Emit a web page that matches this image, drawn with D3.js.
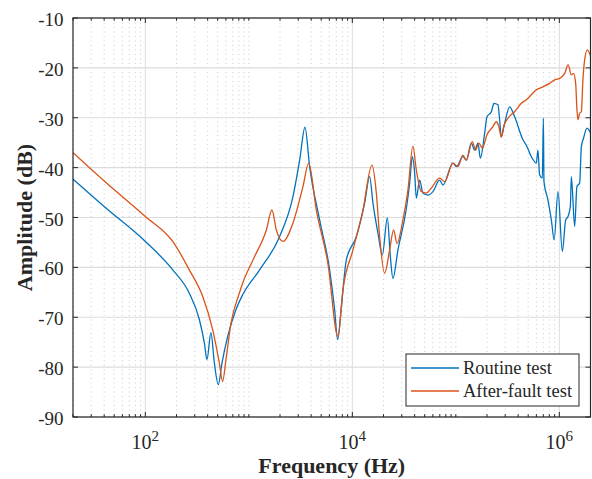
<!DOCTYPE html>
<html>
<head>
<meta charset="utf-8">
<script src="https://cdn.jsdelivr.net/npm/d3@7.9.0/dist/d3.min.js"></script>
<style>
  html, body { margin: 0; padding: 0; background: #fff; }
  svg { display: block; font-family: "Liberation Serif", "DejaVu Serif", serif; }
</style>
</head>
<body>
<svg id="chart" width="592" height="479"></svg>
<script>
// Routine test (blue)
const routineFreq = [20, 41.6, 100, 184, 266, 333, 372, 394, 430, 464, 507, 550, 624, 750, 871,
  1271, 1985, 2668, 3097, 3486, 3867, 4830, 6035, 6745, 7211, 7834, 8750, 10935, 13150, 14700,
  15820, 17670, 19490, 21780, 23280, 24660, 27590, 33260, 35800, 38010, 40000, 41520, 44690,
  48120, 53750, 60070, 69690, 75010, 93730, 101100, 117100, 126300, 141200, 151900, 163600,
  172500, 189800, 199900, 220300, 233300, 255300, 264900, 275100, 296100, 331000, 370000,
  444900, 479800, 536200, 599300, 620800, 645300, 685300, 700700, 710400, 776300, 837200,
  891300, 970200, 1069000, 1151000, 1212000, 1277000, 1306000, 1406000, 1479000, 1571000,
  1632000, 1718000, 1849000, 1921000, 2050000];
const routineDb = [-42.3, -48.1, -54.8, -60.5, -65.2, -70.5, -75.2, -78.5, -73.1, -79.1, -83.5, -79.2, -73.9, -68.5, -65.5,
  -60.5, -53.8, -45.8, -38.5, -31.9, -39.8, -50.5, -60.5, -68.5, -74.5, -67.9, -58.5, -53.8, -47.1, -41.8,
  -47.1, -53.1, -57.5, -50.1, -57.8, -62.2, -56.5, -48.2, -43.1, -37.8, -41.1, -46.1, -42.5,
  -45.1, -45.5, -44.8, -42.5, -43.5, -39.1, -39.8, -37.8, -38.5, -35.1, -36.5, -35.1,
  -38.1, -33.1, -29.8, -28.8, -27.1, -27.4, -30.4, -33.8, -31.1, -27.8, -29.8,
  -34.4, -35.5, -37.8, -39.1, -36.5, -41.5, -42.1, -30.1, -42.8, -46.5, -50.5,
  -54.5, -44.8, -56.8, -50.5, -49.8, -47.8, -41.8, -51.8, -43.8, -43.1,
  -35.8, -34.0, -32.1, -32.4, -33.6];

// After-fault test (orange)
const faultFreq = [20, 41.6, 100, 184, 266, 358, 447, 519, 558, 601, 672, 809, 871, 1096, 1476,
  1671, 1844, 2135, 2668, 3333, 3785, 4487, 5806, 7260, 8112, 10140, 12660, 15460, 17050,
  18350, 20510, 22920, 25050, 26980, 30830, 34450, 38490, 41520, 46420, 51890, 57990, 69690,
  78020, 93730, 104800, 117100, 126300, 144300, 155200, 167000, 180200, 199900, 228200,
  246000, 260600, 275100, 289600, 318700, 370000, 429600, 479800, 536200, 599300, 694900,
  805400, 900600, 1007000, 1126000, 1216000, 1306000, 1372000, 1438000, 1479000, 1514000,
  1571000, 1632000, 1690000, 1755000, 1866000, 1963000, 2050000];
const faultDb = [-37.0, -43.0, -49.8, -54.8, -60.5, -65.8, -72.5, -79.2, -82.9, -78.5, -71.2, -65.2, -63.2, -58.5, -52.5,
  -48.5, -52.5, -54.8, -51.1, -43.8, -39.1, -48.5, -59.2, -73.9, -64.5, -56.5, -48.5, -39.5, -45.1,
  -53.8, -61.2, -56.5, -52.5, -55.2, -50.5, -44.5, -35.7, -40.5, -44.8, -45.1, -44.1, -42.1,
  -42.8, -39.1, -39.8, -37.5, -38.5, -34.8, -36.5, -35.1, -36.1, -33.4, -31.8,
  -30.8, -31.8, -33.9, -31.8, -30.1, -28.8, -27.1, -26.4, -25.4, -24.4, -23.8,
  -23.1, -22.4, -22.1, -21.1, -19.4, -21.4, -21.1, -23.1, -28.4, -30.4,
  -29.1, -28.8, -22.4, -18.4, -16.4, -17.1, -18.1];

const yTicks = [-90, -80, -70, -60, -50, -40, -30, -20, -10];
const xMajorExp = [2, 4, 6];
const seriesNames = ['Routine test', 'After-fault test'];
const seriesColors = ['#0072BD', '#D95319'];

const pl = 73, pr = 590.5, pt = 18, pb = 417;

const x = d3.scaleLog().domain([20, 2e6]).range([pl, pr]);
const y = d3.scaleLinear().domain([-90, -10]).range([pb, pt]);

const svg = d3.select('#chart');

svg.append('defs').append('clipPath').attr('id', 'plot-clip')
  .append('rect')
  .attr('x', pl).attr('y', pt)
  .attr('width', pr - pl).attr('height', pb - pt);

const majorVals = xMajorExp.map(e => Math.pow(10, e));
const minorVals = x.ticks().filter(v => !majorVals.some(m => Math.abs(v - m) < 1e-6 * m));

// grid
const grid = svg.append('g');
grid.selectAll('line.minor')
  .data(minorVals)
  .join('line')
  .attr('x1', d => x(d)).attr('x2', d => x(d))
  .attr('y1', pt).attr('y2', pb)
  .attr('stroke', '#bdbdbd')
  .attr('stroke-width', 0.8)
  .attr('stroke-dasharray', '1,3.5');
grid.selectAll('line.majx')
  .data(majorVals)
  .join('line')
  .attr('x1', d => x(d)).attr('x2', d => x(d))
  .attr('y1', pt).attr('y2', pb)
  .attr('stroke', '#dcdcdc')
  .attr('stroke-width', 1);
grid.selectAll('line.majy')
  .data(yTicks)
  .join('line')
  .attr('x1', pl).attr('x2', pr)
  .attr('y1', d => y(d)).attr('y2', d => y(d))
  .attr('stroke', '#dcdcdc')
  .attr('stroke-width', 1.2);

// curves
const line = d3.line()
  .x(d => x(d[0]))
  .y(d => y(d[1]))
  .curve(d3.curveMonotoneX);

const series = [
  d3.zip(routineFreq, routineDb),
  d3.zip(faultFreq, faultDb)
];

const plot = svg.append('g').attr('clip-path', 'url(#plot-clip)');
// orange drawn after blue
series.forEach((s, i) => {
  plot.append('path')
    .datum(s)
    .attr('d', line)
    .attr('fill', 'none')
    .attr('stroke', seriesColors[i])
    .attr('stroke-width', 1.3)
    .attr('stroke-linejoin', 'round');
});

// box + ticks
const axisColor = '#262626';
const ax = svg.append('g');
ax.append('rect')
  .attr('x', pl).attr('y', pt)
  .attr('width', pr - pl).attr('height', pb - pt)
  .attr('fill', 'none')
  .attr('stroke', axisColor)
  .attr('stroke-width', 1.2);

const xt = [...majorVals.map(v => ({ v, len: 5 })), ...minorVals.map(v => ({ v, len: 2.8 }))];
ax.selectAll('line.xb')
  .data(xt).join('line')
  .attr('x1', d => x(d.v)).attr('x2', d => x(d.v))
  .attr('y1', pb).attr('y2', d => pb - d.len)
  .attr('stroke', axisColor);
ax.selectAll('line.xt')
  .data(xt).join('line')
  .attr('x1', d => x(d.v)).attr('x2', d => x(d.v))
  .attr('y1', pt).attr('y2', d => pt + d.len)
  .attr('stroke', axisColor);
ax.selectAll('line.yl')
  .data(yTicks).join('line')
  .attr('x1', pl).attr('x2', pl + 5)
  .attr('y1', d => y(d)).attr('y2', d => y(d))
  .attr('stroke', axisColor);
ax.selectAll('line.yr')
  .data(yTicks).join('line')
  .attr('x1', pr).attr('x2', pr - 5)
  .attr('y1', d => y(d)).attr('y2', d => y(d))
  .attr('stroke', axisColor);

// tick labels
ax.selectAll('text.ylab')
  .data(yTicks).join('text')
  .attr('x', 63.5)
  .attr('y', d => y(d) + 8)
  .attr('text-anchor', 'end')
  .attr('font-size', 19)
  .attr('fill', axisColor)
  .text(d => d);

const xl = ax.selectAll('text.xlab')
  .data(xMajorExp).join('text')
  .attr('x', d => x(Math.pow(10, d)))
  .attr('y', 449)
  .attr('text-anchor', 'middle')
  .attr('fill', axisColor);
xl.append('tspan').attr('font-size', 20).text('10');
xl.append('tspan').attr('font-size', 15).attr('dy', -8).text(d => d);

// axis titles
svg.append('text')
  .attr('x', (pl + pr) / 2)
  .attr('y', 473)
  .attr('text-anchor', 'middle')
  .attr('font-size', 22)
  .attr('font-weight', 'bold')
  .attr('fill', axisColor)
  .text('Frequency (Hz)');

svg.append('text')
  .attr('transform', `translate(32,${(pt + pb) / 2}) rotate(-90)`)
  .attr('text-anchor', 'middle')
  .attr('font-size', 22)
  .attr('font-weight', 'bold')
  .attr('fill', axisColor)
  .text('Amplitude (dB)');

// legend
const lg = svg.append('g');
lg.append('rect')
  .attr('x', 406).attr('y', 354)
  .attr('width', 173).attr('height', 52)
  .attr('fill', '#fff')
  .attr('stroke', axisColor)
  .attr('stroke-width', 1);
seriesNames.forEach((name, i) => {
  const ly = 368 + i * 23;
  lg.append('line')
    .attr('x1', 411).attr('x2', 459)
    .attr('y1', ly).attr('y2', ly)
    .attr('stroke', seriesColors[i])
    .attr('stroke-width', 1.3);
  lg.append('text')
    .attr('x', 463).attr('y', ly + 6)
    .attr('font-size', 18.5)
    .attr('fill', axisColor)
    .text(name);
});
</script>
</body>
</html>
